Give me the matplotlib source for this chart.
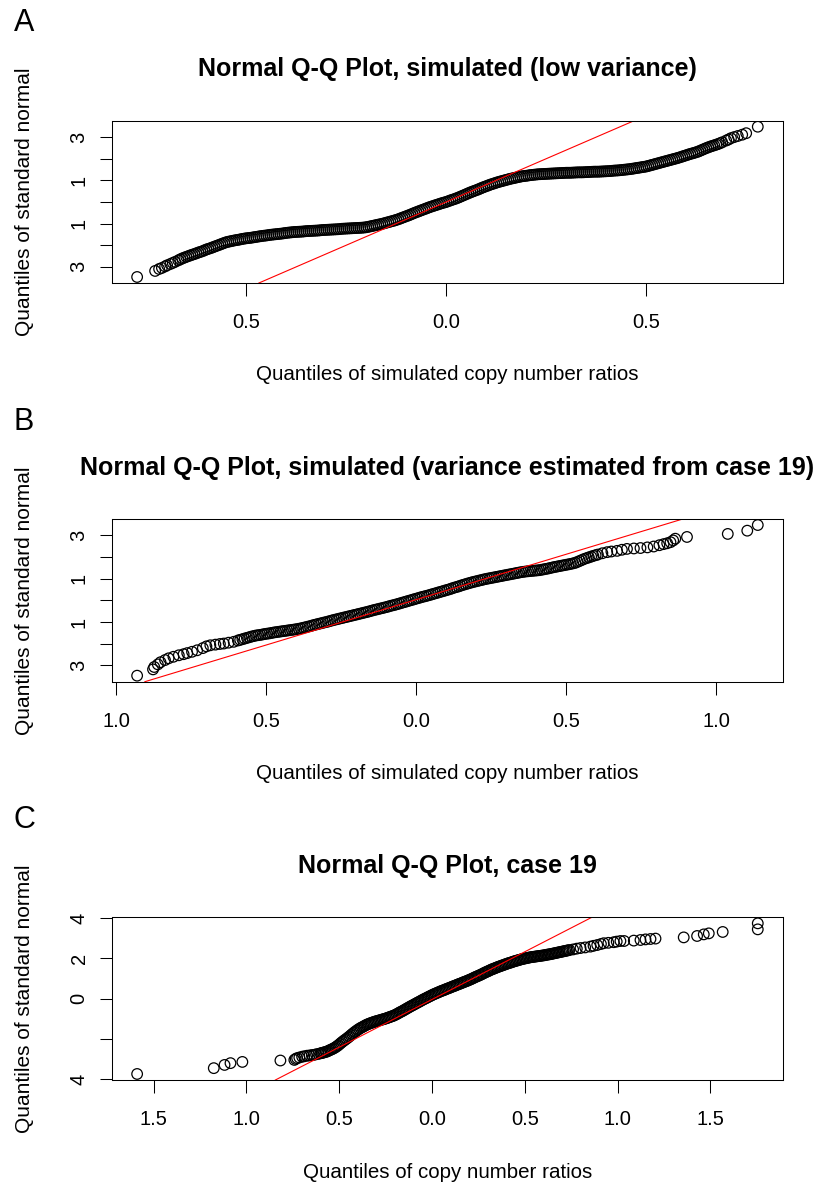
"""Normal Q-Q plots of copy number ratios (panels A, B, C)."""

import matplotlib

matplotlib.use("Agg")
import matplotlib.pyplot as plt

plt.rcParams["font.family"] = ["Liberation Sans", "DejaVu Sans"]

# figure size in pixels (dpi 100)
W, H = 815, 1185

# ---------------------------------------------------------------- panel A
a_ratio = [
    -0.773, -0.728, -0.718, -0.711, -0.703, -0.698, -0.690, -0.684, -0.678,
    -0.670, -0.665, -0.660, -0.655, -0.650, -0.645, -0.640, -0.635, -0.630, -0.625,
    -0.620, -0.615, -0.610, -0.605, -0.600, -0.595, -0.590, -0.585, -0.580, -0.575,
    -0.570, -0.565, -0.560, -0.555, -0.550, -0.545, -0.540, -0.535, -0.530, -0.525,
    -0.520, -0.515, -0.510, -0.505, -0.500, -0.495, -0.490, -0.485, -0.480, -0.475,
    -0.470, -0.465, -0.460, -0.455, -0.450, -0.445, -0.440, -0.435, -0.430, -0.425,
    -0.420, -0.415, -0.410, -0.405, -0.400, -0.395, -0.390, -0.385, -0.380, -0.375,
    -0.370, -0.365, -0.360, -0.355, -0.350, -0.345, -0.340, -0.335, -0.330, -0.325,
    -0.320, -0.315, -0.310, -0.305, -0.300, -0.295, -0.290, -0.285, -0.280, -0.275,
    -0.270, -0.265, -0.260, -0.255, -0.250, -0.245, -0.240, -0.235, -0.230, -0.225,
    -0.220, -0.215, -0.210, -0.205, -0.200, -0.195, -0.190, -0.185, -0.180, -0.175,
    -0.170, -0.165, -0.160, -0.155, -0.150, -0.145, -0.140, -0.135, -0.130, -0.125,
    -0.120, -0.115, -0.110, -0.105, -0.100, -0.095, -0.090, -0.085, -0.080, -0.075,
    -0.070, -0.065, -0.060, -0.055, -0.050, -0.045, -0.040, -0.035, -0.030, -0.025,
    -0.020, -0.015, -0.010, -0.005, 0.000, 0.005, 0.010, 0.015, 0.020, 0.025,
    0.030, 0.035, 0.040, 0.045, 0.050, 0.055, 0.060, 0.065, 0.070, 0.075,
    0.080, 0.085, 0.090, 0.095, 0.100, 0.105, 0.110, 0.115, 0.120, 0.125,
    0.130, 0.135, 0.140, 0.145, 0.150, 0.155, 0.160, 0.165, 0.170, 0.175,
    0.180, 0.185, 0.190, 0.195, 0.200, 0.205, 0.210, 0.215, 0.220, 0.225,
    0.230, 0.235, 0.240, 0.245, 0.250, 0.255, 0.260, 0.265, 0.270, 0.275,
    0.280, 0.285, 0.290, 0.295, 0.300, 0.305, 0.310, 0.315, 0.320, 0.325,
    0.330, 0.335, 0.340, 0.345, 0.350, 0.355, 0.360, 0.365, 0.370, 0.375,
    0.380, 0.385, 0.390, 0.395, 0.400, 0.405, 0.410, 0.415, 0.420, 0.425,
    0.430, 0.435, 0.440, 0.445, 0.450, 0.455, 0.460, 0.465, 0.470, 0.475,
    0.480, 0.485, 0.490, 0.495, 0.500, 0.505, 0.510, 0.515, 0.520, 0.525,
    0.530, 0.535, 0.540, 0.545, 0.550, 0.555, 0.560, 0.565, 0.570, 0.575,
    0.580, 0.585, 0.590, 0.595, 0.600, 0.605, 0.610, 0.615, 0.620, 0.625,
    0.630, 0.635, 0.640, 0.645, 0.650, 0.655, 0.660, 0.665, 0.670, 0.675,
    0.680, 0.685, 0.690,
    0.700, 0.706, 0.712, 0.720, 0.729, 0.740, 0.750, 0.779,
]
a_normal = [
    -3.47, -3.19, -3.10, -3.05, -2.98, -2.93, -2.87, -2.82, -2.77,
    -2.70, -2.655, -2.61, -2.575, -2.54, -2.505, -2.47, -2.44, -2.41, -2.375,
    -2.34, -2.31, -2.28, -2.24, -2.20, -2.17, -2.14, -2.105, -2.07, -2.035,
    -2.00, -1.965, -1.93, -1.895, -1.86, -1.84, -1.82, -1.80, -1.78, -1.765,
    -1.75, -1.73, -1.71, -1.695, -1.68, -1.67, -1.66, -1.645, -1.63, -1.615,
    -1.60, -1.585, -1.57, -1.56, -1.55, -1.535, -1.52, -1.51, -1.50, -1.49,
    -1.48, -1.47, -1.46, -1.445, -1.43, -1.42, -1.41, -1.40, -1.39, -1.385,
    -1.38, -1.375, -1.37, -1.36, -1.35, -1.345, -1.34, -1.335, -1.33, -1.325,
    -1.32, -1.31, -1.30, -1.295, -1.29, -1.285, -1.28, -1.275, -1.27, -1.265,
    -1.26, -1.25, -1.24, -1.235, -1.23, -1.225, -1.22, -1.215, -1.21, -1.205,
    -1.20, -1.195, -1.19, -1.18, -1.17, -1.15, -1.13, -1.11, -1.09, -1.07,
    -1.05, -1.03, -1.01, -0.985, -0.96, -0.935, -0.91, -0.885, -0.86, -0.83,
    -0.80, -0.765, -0.73, -0.695, -0.66, -0.625, -0.59, -0.55, -0.51, -0.475,
    -0.44, -0.405, -0.37, -0.335, -0.30, -0.265, -0.23, -0.20, -0.17, -0.14,
    -0.11, -0.08, -0.05, -0.025, 0.00, 0.035, 0.07, 0.10, 0.13, 0.165,
    0.20, 0.24, 0.28, 0.32, 0.36, 0.40, 0.44, 0.475, 0.51, 0.545,
    0.58, 0.62, 0.66, 0.695, 0.73, 0.765, 0.80, 0.83, 0.86, 0.89,
    0.92, 0.945, 0.97, 0.995, 1.02, 1.045, 1.07, 1.09, 1.11, 1.13,
    1.15, 1.17, 1.19, 1.20, 1.21, 1.225, 1.24, 1.25, 1.26, 1.27,
    1.28, 1.285, 1.29, 1.295, 1.30, 1.305, 1.31, 1.315, 1.32, 1.325,
    1.33, 1.335, 1.34, 1.345, 1.35, 1.35, 1.35, 1.355, 1.36, 1.365,
    1.37, 1.37, 1.37, 1.375, 1.38, 1.385, 1.39, 1.395, 1.40, 1.40,
    1.40, 1.405, 1.41, 1.415, 1.42, 1.425, 1.43, 1.44, 1.45, 1.455,
    1.46, 1.47, 1.48, 1.49, 1.50, 1.51, 1.52, 1.535, 1.55, 1.565,
    1.58, 1.595, 1.61, 1.625, 1.64, 1.665, 1.69, 1.715, 1.74, 1.765,
    1.79, 1.815, 1.84, 1.865, 1.89, 1.915, 1.94, 1.965, 1.99, 2.015,
    2.04, 2.07, 2.10, 2.13, 2.16, 2.19, 2.22, 2.245, 2.27, 2.30,
    2.33, 2.37, 2.41, 2.45, 2.49, 2.525, 2.56, 2.59, 2.62, 2.65,
    2.68, 2.72, 2.76,
    2.84, 2.89, 2.95, 3.00, 3.05, 3.11, 3.18, 3.48,
]
a_line = (0.0, 8.0)  # intercept, slope of the reference line

# ---------------------------------------------------------------- panel B
b_ratio = [
    -0.931, -0.878, -0.874, -0.862, -0.853, -0.838, -0.826, -0.810, -0.792,
    -0.776, -0.764, -0.748, -0.731, -0.712, -0.700, -0.687, -0.670, -0.655,
    -0.642, -0.626, -0.609,
    -0.595, -0.5875, -0.580, -0.5725, -0.565, -0.5575, -0.550, -0.5425, -0.535, -0.5275,
    -0.520, -0.5125, -0.505, -0.4975, -0.490, -0.4825, -0.475, -0.4675, -0.460, -0.4525,
    -0.445, -0.4375, -0.430, -0.4225, -0.415, -0.4075, -0.400, -0.3925, -0.385, -0.3775,
    -0.370, -0.3625, -0.355, -0.3475, -0.340, -0.3325, -0.325, -0.3175, -0.310, -0.3025,
    -0.295, -0.2875, -0.280, -0.2725, -0.265, -0.2575, -0.250, -0.2425, -0.235, -0.2275,
    -0.220, -0.2125, -0.205, -0.1975, -0.190, -0.1825, -0.175, -0.1675, -0.160, -0.1525,
    -0.145, -0.1375, -0.130, -0.1225, -0.115, -0.1075, -0.100, -0.0925, -0.085, -0.0775,
    -0.070, -0.0625, -0.055, -0.0475, -0.040, -0.0325, -0.025, -0.0175, -0.010, -0.0025,
    0.005, 0.0125, 0.020, 0.0275, 0.035, 0.0425, 0.050, 0.0575, 0.065, 0.0725,
    0.080, 0.0875, 0.095, 0.1025, 0.110, 0.1175, 0.125, 0.1325, 0.140, 0.1475,
    0.155, 0.1625, 0.170, 0.1775, 0.185, 0.1925, 0.200, 0.2075, 0.215, 0.2225,
    0.230, 0.2375, 0.245, 0.2525, 0.260, 0.2675, 0.275, 0.2825, 0.290, 0.2975,
    0.305, 0.3125, 0.320, 0.3275, 0.335, 0.3425, 0.350, 0.3575, 0.365, 0.3725,
    0.380, 0.3875, 0.395, 0.4025, 0.410, 0.4175, 0.425, 0.4325, 0.440, 0.4475,
    0.455, 0.4625, 0.470, 0.4775, 0.485, 0.4925, 0.500, 0.5075, 0.515, 0.5225,
    0.530, 0.5375, 0.545, 0.5525, 0.560, 0.5675, 0.575, 0.5825, 0.590, 0.5975,
    0.605,
    0.620, 0.636, 0.650, 0.669, 0.685, 0.702, 0.725, 0.747, 0.770,
    0.791, 0.810, 0.824, 0.836, 0.847, 0.856, 0.863, 0.902, 1.038,
    1.103, 1.138,
]
b_normal = [
    -3.47, -3.18, -3.07, -2.95, -2.85, -2.75, -2.67, -2.60, -2.53,
    -2.48, -2.43, -2.37, -2.30, -2.20, -2.12, -2.07, -2.04, -2.01,
    -1.99, -1.95, -1.91,
    -1.85, -1.82, -1.79, -1.76, -1.73, -1.70, -1.67, -1.645, -1.62, -1.605,
    -1.59, -1.57, -1.55, -1.535, -1.52, -1.50, -1.48, -1.465, -1.45, -1.435,
    -1.42, -1.405, -1.39, -1.375, -1.36, -1.345, -1.33, -1.31, -1.29, -1.265,
    -1.24, -1.215, -1.19, -1.16, -1.13, -1.105, -1.08, -1.055, -1.03, -1.005,
    -0.98, -0.95, -0.92, -0.895, -0.87, -0.845, -0.82, -0.795, -0.77, -0.745,
    -0.72, -0.695, -0.67, -0.645, -0.62, -0.595, -0.57, -0.545, -0.52, -0.49,
    -0.46, -0.435, -0.41, -0.385, -0.36, -0.335, -0.31, -0.28, -0.25, -0.225,
    -0.20, -0.17, -0.14, -0.11, -0.08, -0.05, -0.02, 0.01, 0.04, 0.07,
    0.10, 0.13, 0.16, 0.185, 0.21, 0.24, 0.27, 0.30, 0.33, 0.36,
    0.39, 0.42, 0.45, 0.48, 0.51, 0.545, 0.58, 0.61, 0.64, 0.675,
    0.71, 0.74, 0.77, 0.80, 0.83, 0.855, 0.88, 0.905, 0.93, 0.955,
    0.98, 1.00, 1.02, 1.04, 1.06, 1.08, 1.10, 1.12, 1.14, 1.16,
    1.18, 1.20, 1.22, 1.24, 1.26, 1.28, 1.30, 1.315, 1.33, 1.34,
    1.35, 1.36, 1.37, 1.38, 1.39, 1.41, 1.43, 1.45, 1.47, 1.495,
    1.52, 1.54, 1.56, 1.58, 1.60, 1.62, 1.64, 1.66, 1.68, 1.705,
    1.73, 1.775, 1.82, 1.865, 1.91, 1.945, 1.98, 2.015, 2.05, 2.08,
    2.11,
    2.17, 2.22, 2.25, 2.28, 2.33, 2.37, 2.39, 2.41, 2.44,
    2.48, 2.54, 2.59, 2.63, 2.68, 2.76, 2.84, 2.92, 3.06,
    3.21, 3.47,
]
b_line = (0.036, 4.18)

# ---------------------------------------------------------------- panel C
c_ratio = [
    -1.589, -1.176, -1.118, -1.086, -1.022, -0.817, -0.742, -0.735, -0.727,
    -0.715, -0.700, -0.688, -0.673, -0.660, -0.648, -0.637, -0.625, -0.612,
    -0.601,
    -0.595, -0.5875, -0.580, -0.5725, -0.565, -0.5575, -0.550, -0.5425, -0.535, -0.5275,
    -0.520, -0.5125, -0.505, -0.4975, -0.490, -0.4825, -0.475, -0.4675, -0.460, -0.4525,
    -0.445, -0.4375, -0.430, -0.4225, -0.415, -0.4075, -0.400, -0.3925, -0.385, -0.3775,
    -0.370, -0.3625, -0.355, -0.3475, -0.340, -0.3325, -0.325, -0.3175, -0.310, -0.3025,
    -0.295, -0.2875, -0.280, -0.2725, -0.265, -0.2575, -0.250, -0.2425, -0.235, -0.2275,
    -0.220, -0.2125, -0.205, -0.1975, -0.190, -0.1825, -0.175, -0.1675, -0.160, -0.1525,
    -0.145, -0.1375, -0.130, -0.1225, -0.115, -0.1075, -0.100, -0.0925, -0.085, -0.0775,
    -0.070, -0.0625, -0.055, -0.0475, -0.040, -0.0325, -0.025, -0.0175, -0.010, -0.0025,
    0.005, 0.0125, 0.020, 0.0275, 0.035, 0.0425, 0.050, 0.0575, 0.065, 0.0725,
    0.080, 0.0875, 0.095, 0.1025, 0.110, 0.1175, 0.125, 0.1325, 0.140, 0.1475,
    0.155, 0.1625, 0.170, 0.1775, 0.185, 0.1925, 0.200, 0.2075, 0.215, 0.2225,
    0.230, 0.2375, 0.245, 0.2525, 0.260, 0.2675, 0.275, 0.2825, 0.290, 0.2975,
    0.305, 0.3125, 0.320, 0.3275, 0.335, 0.3425, 0.350, 0.3575, 0.365, 0.3725,
    0.380, 0.3875, 0.395, 0.4025, 0.410, 0.4175, 0.425, 0.4325, 0.440, 0.4475,
    0.455, 0.4625, 0.470, 0.4775, 0.485, 0.4925, 0.500, 0.5075, 0.515, 0.5225,
    0.530, 0.5375, 0.545, 0.5525, 0.560, 0.5675, 0.575, 0.5825, 0.590, 0.5975,
    0.605, 0.6125, 0.620, 0.6275, 0.635, 0.6425, 0.650, 0.6575, 0.665, 0.6725,
    0.680, 0.6875, 0.695, 0.7025, 0.710, 0.7175, 0.725, 0.7325, 0.740,
    0.760, 0.780, 0.800, 0.825, 0.853, 0.870, 0.890, 0.910, 0.925,
    0.950, 0.979, 0.995, 1.015, 1.035, 1.087, 1.123, 1.150, 1.177,
    1.204, 1.356, 1.428, 1.464, 1.491, 1.566, 1.755, 1.755,
]
c_normal = [
    -3.75, -3.46, -3.30, -3.21, -3.15, -3.08, -3.05, -3.00, -2.96,
    -2.93, -2.89, -2.87, -2.84, -2.83, -2.81, -2.80, -2.77, -2.75,
    -2.72,
    -2.71, -2.69, -2.67, -2.65, -2.63, -2.595, -2.56, -2.53, -2.50, -2.46,
    -2.42, -2.37, -2.32, -2.26, -2.20, -2.145, -2.09, -2.04, -1.99, -1.935,
    -1.88, -1.82, -1.76, -1.705, -1.65, -1.60, -1.55, -1.505, -1.46, -1.425,
    -1.39, -1.35, -1.31, -1.28, -1.25, -1.225, -1.20, -1.175, -1.15, -1.13,
    -1.11, -1.09, -1.07, -1.05, -1.03, -1.01, -0.99, -0.965, -0.94, -0.915,
    -0.89, -0.865, -0.84, -0.805, -0.77, -0.73, -0.69, -0.655, -0.62, -0.58,
    -0.54, -0.50, -0.46, -0.42, -0.38, -0.345, -0.31, -0.27, -0.23, -0.195,
    -0.16, -0.12, -0.08, -0.045, -0.01, 0.025, 0.06, 0.095, 0.13, 0.165,
    0.20, 0.23, 0.26, 0.29, 0.32, 0.35, 0.38, 0.405, 0.43, 0.46,
    0.49, 0.515, 0.54, 0.57, 0.60, 0.625, 0.65, 0.68, 0.71, 0.735,
    0.76, 0.79, 0.82, 0.845, 0.87, 0.90, 0.93, 0.96, 0.99, 1.025,
    1.06, 1.09, 1.12, 1.15, 1.18, 1.215, 1.25, 1.285, 1.32, 1.35,
    1.38, 1.415, 1.45, 1.475, 1.50, 1.53, 1.56, 1.585, 1.61, 1.635,
    1.66, 1.685, 1.71, 1.735, 1.76, 1.78, 1.80, 1.825, 1.85, 1.87,
    1.89, 1.91, 1.93, 1.95, 1.97, 1.985, 2.00, 2.015, 2.03, 2.045,
    2.06, 2.07, 2.08, 2.09, 2.10, 2.11, 2.12, 2.13, 2.14, 2.15,
    2.16, 2.175, 2.19, 2.20, 2.21, 2.225, 2.24, 2.255, 2.27, 2.285,
    2.30, 2.315, 2.33, 2.345, 2.36, 2.375, 2.39, 2.405, 2.42,
    2.45, 2.49, 2.52, 2.55, 2.59, 2.63, 2.67, 2.72, 2.76,
    2.78, 2.81, 2.84, 2.87, 2.87, 2.89, 2.92, 2.95, 2.97,
    2.99, 3.05, 3.12, 3.20, 3.25, 3.32, 3.45, 3.75,
]
c_line = (-0.04, 4.75)

# tick labels as printed (minus signs were lost in the original)
a_xticks, a_xlabels = [-0.5, 0.0, 0.5], ["0.5", "0.0", "0.5"]
b_xticks, b_xlabels = [-1.0, -0.5, 0.0, 0.5, 1.0], ["1.0", "0.5", "0.0", "0.5", "1.0"]
c_xticks = [-1.5, -1.0, -0.5, 0.0, 0.5, 1.0, 1.5]
c_xlabels = ["1.5", "1.0", "0.5", "0.0", "0.5", "1.0", "1.5"]
ab_yticks, ab_ylabels = [-3, -2, -1, 0, 1, 2, 3], ["3", "", "1", "", "1", "", "3"]
c_yticks, c_ylabels = [-4, -2, 0, 2, 4], ["4", "", "0", "2", "4"]


def _draw_panel(fig, box, letter, title, xlabel, ratios, normals, line, xticks, yticks):
    """Draw one Q-Q panel; box is (left, top, right, bottom) in pixels."""
    left, top, right, bottom = box
    ax = fig.add_axes([left / W, 1 - bottom / H, (right - left) / W, (bottom - top) / H])

    ax.scatter(ratios, normals, s=58, facecolors="none", edgecolors="black", linewidths=0.9)
    ax.margins(0.04)
    ax.autoscale_view()
    ax.axline((0, line[0]), slope=line[1], color="red", lw=0.8)

    ax.set_xticks(xticks[0], labels=xticks[1])
    ax.set_yticks(yticks[0], labels=yticks[1])
    ax.tick_params(direction="out", length=9, width=0.75, labelsize=14.5, colors="black")
    ax.tick_params(axis="x", pad=12.5)
    ax.tick_params(axis="y", pad=8)
    for lab in ax.get_yticklabels():
        lab.set_rotation(90)
        lab.set_va("center")
    for spine in ax.spines.values():
        spine.set_linewidth(0.75)

    xc = (left + right) / 2
    fig.text(24 / W, 1 - (top - 97.5) / H, letter, fontsize=22, ha="center", va="center")
    fig.text(xc / W, 1 - (top - 51.5) / H, title, fontsize=18, fontweight="bold",
             ha="center", va="center")
    fig.text(25 / W, 1 - (top + bottom) / 2 / H, "Quantiles of standard normal",
             fontsize=15, rotation=90, ha="center", va="center")
    fig.text(xc / W, 1 - (bottom + 92) / H, xlabel, fontsize=14.8, ha="center", va="center")
    return ax


def main() -> None:
    fig = plt.figure(figsize=(W / 100, H / 100), dpi=100)
    sim_label = "Quantiles of simulated copy number ratios"

    _draw_panel(fig, (112.3, 120.7, 782.6, 283), "A",
                "Normal Q-Q Plot, simulated (low variance)", sim_label,
                a_ratio, a_normal, a_line, (a_xticks, a_xlabels), (ab_yticks, ab_ylabels))
    _draw_panel(fig, (112.3, 519, 782.6, 681.7), "B",
                "Normal Q-Q Plot, simulated (variance estimated from case 19)", sim_label,
                b_ratio, b_normal, b_line, (b_xticks, b_xlabels), (ab_yticks, ab_ylabels))
    _draw_panel(fig, (112.3, 917.3, 782.6, 1080), "C",
                "Normal Q-Q Plot, case 19", "Quantiles of copy number ratios",
                c_ratio, c_normal, c_line, (c_xticks, c_xlabels), (c_yticks, c_ylabels))

    fig.savefig("out.png", dpi=100)
    plt.close(fig)


if __name__ == "__main__":
    main()
